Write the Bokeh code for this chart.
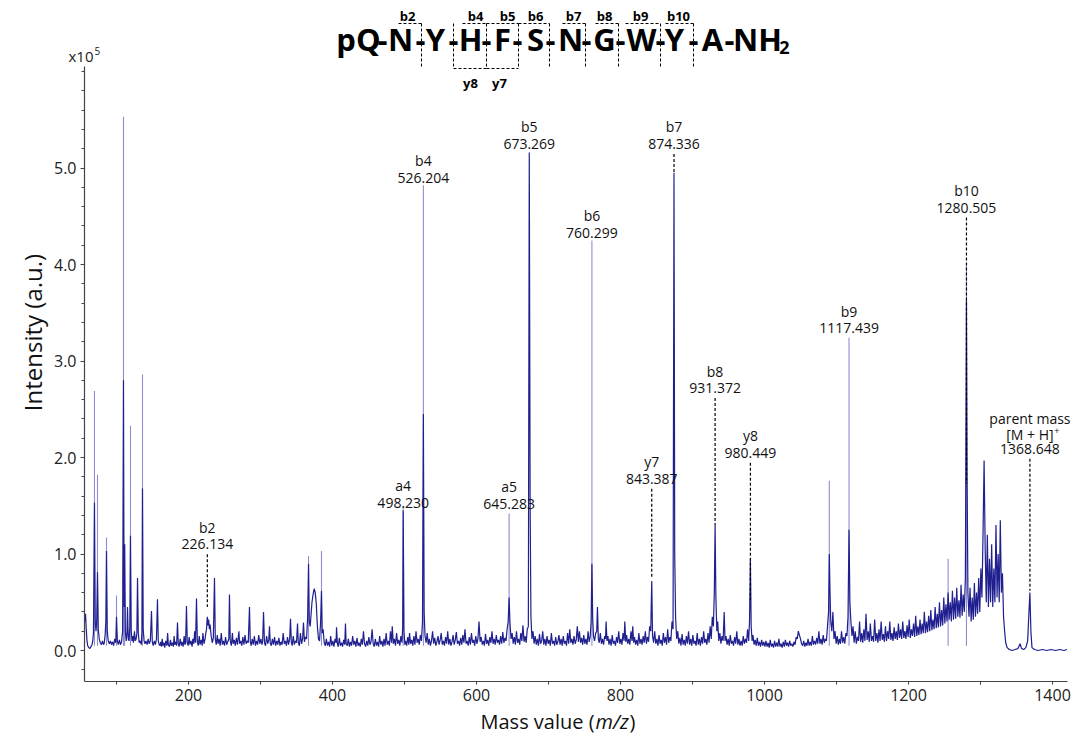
import math
from bokeh.plotting import figure
from bokeh.models import Range1d, FixedTicker, PrintfTickFormatter
from bokeh.core.properties import value
from bokeh.embed import file_html
from bokeh.resources import INLINE

# ---------------- data (m/z, intensity in units of 1e5) ----------------
trace_mz = [
    56, 57, 58, 59, 60, 61.5, 63, 64.5, 66, 67, 68, 69.4, 70.5, 71.5, 72.5, 73.6, 74.7, 76, 77.5,
    79, 80.5, 82, 83, 84.2, 85.2, 86.1, 87.2, 88.5, 90, 91.5, 93, 94.5, 96, 97.5, 99, 100, 101.2,
    102.5, 104, 105.5, 107, 108.5, 109.7, 110.5, 111.3, 112.3, 113.5, 114.5, 115.3, 116.3, 117.5,
    118.5, 119.4, 120.5, 121.5, 122.5, 123.5, 125, 126, 127.3, 128.3, 129.2, 130.3, 131.5, 133,
    134.5, 135.3, 136.1, 137.1, 138.3, 139.5, 141, 142.5, 144, 145.5, 147, 148.6, 149.7, 151,
    152.5, 154, 155.5, 156.9, 158, 159.3,
    # 160 - 500
    160.5, 161.5, 162.5, 163.5, 164.5, 166, 167, 168.5, 170, 171, 172, 173.5, 175, 176, 177.5, 179,
    180, 181, 182.5, 183.5, 184.7, 185.8, 187, 188.5, 190, 191, 192.5, 194, 195, 196, 197.2, 198.3,
    199.5, 201, 202, 203.5, 205, 206, 207.5, 208.5, 209.8, 211.1, 212.3, 213.5, 215, 216, 217.5,
    219, 220, 221.5, 223, 224, 225, 226.1, 227, 228, 229, 230, 231.5, 233, 234.5, 236.1, 237.2,
    238.5, 240, 241, 242.5, 244, 245.5, 247, 248.5, 250, 251.5, 253, 254.5, 256, 256.9, 258, 259.5,
    261, 262, 263.5, 265, 266.5, 268, 270, 271, 272.5, 274, 275.5, 277, 278.5, 280, 281.5, 283,
    284.7, 285.8, 287, 288.5, 290, 291.5, 293, 294.5, 296, 297.5, 299, 300.5, 302, 303, 304.2,
    305.5, 307, 308.5, 310, 311.5, 312.5, 313.5, 315, 316.5, 318, 319.5, 321, 322.5, 324, 325.5,
    327, 328.5, 330, 331.5, 333, 334.5, 336, 337.5, 339, 340.5, 341.7, 342.8, 344, 345.5, 347,
    348.5, 350, 351.4, 352.5, 354, 355.5, 357, 358.5, 359.7, 361, 362.5, 364, 365.5, 366.7, 367.8,
    369, 370, 371.5, 373, 374.5, 376, 377.5, 379, 380.5, 382, 383.5, 384.7, 385.8, 387, 388.5, 390,
    391.5, 393, 394.5, 396, 397.5, 399, 400.5, 402, 403.5, 405, 405.6, 406.8, 408, 409.5, 411,
    412.5, 414, 415.5, 417, 418, 419, 420.5, 422, 423.5, 425, 426.5, 428, 429.5, 431, 432.5, 434,
    435.5, 437, 438.5, 440, 441.5, 443, 444.5, 446, 447.5, 449, 450.5, 452, 453.5, 455, 456.5, 458,
    459.5, 461, 462.5, 464, 465.5, 467, 468.5, 470, 471.5, 473, 474.5, 476, 477.5, 479, 480.5, 482,
    483, 484.5, 486, 487.5, 489, 490.5, 492, 493.5, 495, 496.5, 497.5, 498.2, 499.3, 500.5,
    # 500 - 1000
    501.5, 503, 504.5, 506, 507, 508.5, 510, 511.5, 513, 514.5, 516, 517.5, 519, 520.5, 522, 523.5,
    525, 526.2, 527.3, 528.5, 530, 531.5, 533, 534.5, 536, 537.5, 539, 540.5, 542, 543.5, 545,
    546.5, 548, 549.5, 551, 552.5, 554, 555.5, 557, 558.5, 560, 561.5, 563, 564.5, 566, 567.5, 569,
    570.5, 572, 573.5, 575, 576.5, 578, 579.5, 581, 582.5, 584, 585.5, 587, 588.5, 590, 591.5, 593,
    594.5, 596, 597.5, 599, 600.5, 602, 603.5, 605, 606.5, 608, 609.5, 611, 612.5, 614, 615.5, 617,
    618.5, 620, 621.5, 623, 624.5, 626, 627.5, 629, 630.5, 632, 633.5, 635, 636.5, 638, 639.5, 641,
    642.5, 644, 645.3, 646.5, 648, 649.5, 651, 652.5, 654, 655.5, 657, 658.5, 660, 661.5, 663,
    664.5, 666, 667.5, 669, 670.5, 672, 673.3, 674.5, 675.6, 677, 678.5, 680, 681.5, 683, 684.5,
    686, 687.5, 689, 690.5, 692, 693.5, 695, 696.5, 698, 699.5, 701, 702.5, 704, 705.5, 707, 708.5,
    710, 711.5, 713, 714.5, 716, 717.5, 719, 720.5, 722, 723.5, 725, 726.5, 728, 729.5, 731, 732.5,
    734, 735.5, 737, 738.5, 740, 741.5, 743, 744.5, 746, 747.5, 749, 750.5, 752, 753.5, 755, 756.5,
    758, 759.2, 760.3, 761.4, 762.5, 764, 765.5, 767, 768, 769.2, 770.5, 772, 773.5, 775, 776.5,
    778, 779.2, 780, 781.2, 782.5, 784, 785.5, 787, 788.5, 790, 791.5, 793, 794.5, 796, 797.5, 799,
    800.5, 802, 803.5, 805, 806, 807.3, 808.5, 810, 811.5, 813, 814.5, 816, 817, 818.3, 819.5, 821,
    822.5, 824, 825.5, 827, 828.5, 830, 831.5, 833, 834.5, 836, 837.5, 839, 840.5, 842, 843.4,
    844.5, 846, 847.5, 849, 850.5, 852, 853.5, 855, 856.5, 858, 859.5, 861, 862.5, 864, 865.5, 867,
    868.5, 870, 871.5, 873, 874.3, 875.3, 876.5, 878, 879.5, 881, 882.5, 884, 885.5, 887, 888.5,
    890, 891.5, 893, 894.5, 896, 897.5, 899, 900.5, 902, 903.5, 905, 906.5, 908, 909.5, 911, 912.5,
    914, 915.5, 917, 918.5, 920, 921.5, 923, 924.5, 926, 927.5, 929, 930.3, 931.4, 932.5, 933.8,
    935, 936.5, 938, 939.5, 941, 942.5, 944, 945.2, 946.5, 948, 949.5, 951, 952.5, 954, 955.5, 957,
    958.5, 960, 961.5, 963, 964.5, 966, 967.5, 969, 970.5, 972, 973.5, 975, 976.5, 978, 979.2,
    980.4, 981.5, 982.8, 984, 985.5, 987, 988.5, 990, 991.5, 993, 994.5, 996, 997.5, 999,
    # 1000 - 1420
    1000.5, 1002, 1003.5, 1005, 1006.5, 1008, 1009.5, 1011, 1012.5, 1014, 1015.5, 1017, 1018.5,
    1020, 1021.5, 1023, 1024.5, 1026, 1027.5, 1029, 1030.5, 1032, 1033.5, 1035, 1036.5, 1038,
    1039.5, 1041, 1042.5, 1044, 1045.5, 1047, 1048.5, 1050, 1051.5, 1053, 1054.5, 1056, 1057.5,
    1059, 1060.5, 1062, 1063.5, 1065, 1066.5, 1068, 1069.5, 1071, 1072.5, 1074, 1075.5, 1077,
    1078.5, 1080, 1081.5, 1083, 1084.5, 1086, 1087.5, 1089, 1090, 1091, 1092, 1093.5, 1095,
    1096.5, 1098, 1099.5, 1101, 1102.5, 1104, 1105.5, 1107, 1108.5, 1110, 1111.5, 1113, 1114.5,
    1116, 1117.4, 1118.6, 1120, 1121.5, 1123, 1124.5, 1126, 1127.5, 1129, 1130.5, 1132, 1133.5,
    1135, 1136.5, 1138, 1139.5, 1141, 1142.5, 1144, 1145.5, 1147, 1148.5, 1150, 1151.5, 1153,
    1154.5, 1156, 1157.5, 1159, 1160.5, 1162, 1163.5, 1165, 1166.5, 1168, 1169.5, 1171, 1172.5,
    1174, 1175.5, 1177, 1178.5, 1180, 1181.5, 1183, 1184.5, 1186, 1187.5, 1189, 1190.5, 1192,
    1193.5, 1195, 1196.5, 1198, 1199.5, 1201, 1202.5, 1204, 1205.5, 1207, 1208.5, 1210, 1211.5,
    1213, 1214.5, 1216, 1217.5, 1219, 1220.5, 1222, 1223.5, 1225, 1226.5, 1228, 1229.5, 1231,
    1232.5, 1234, 1235.5, 1237, 1238.5, 1240, 1241.5, 1243, 1244.5, 1246, 1247.5, 1249, 1250.5,
    1252, 1253.5, 1255, 1256.5, 1258, 1259.5, 1261, 1262.5, 1264, 1265.5, 1267, 1268.5, 1270,
    1271.5, 1273, 1274.5, 1276, 1277.5, 1279, 1280.5, 1281.5, 1282.5, 1284, 1285.5, 1287, 1288.5,
    1290, 1291.5, 1293, 1294.5, 1296, 1297.5, 1299, 1300.5, 1302, 1303.5, 1305, 1306.5, 1308,
    1309.5, 1311, 1312.5, 1314, 1315.5, 1317, 1318.5, 1320, 1321.5, 1323, 1324.5, 1326, 1327.5,
    1329, 1330.5, 1332, 1333.5, 1335, 1337, 1340, 1344, 1348, 1352, 1355, 1357, 1360, 1363,
    1365.5, 1367, 1368.6, 1370, 1371.5, 1375, 1380, 1386, 1392, 1398, 1404, 1410, 1416, 1420,
]
trace_int = [
    0.30, 0.38, 0.22, 0.10, 0.05, 0.03, 0.02, 0.04, 0.06, 0.10, 0.18, 1.53, 0.30, 0.20, 0.30, 0.81, 0.22, 0.12, 0.08,
    0.06, 0.10, 0.06, 0.08, 0.16, 0.30, 1.03, 0.20, 0.10, 0.07, 0.10, 0.06, 0.09, 0.05, 0.12, 0.08, 0.35, 0.10,
    0.06, 0.11, 0.06, 0.09, 0.20, 2.80, 0.45, 1.10, 0.20, 0.10, 0.18, 0.45, 0.12, 0.10,
    0.25, 1.19, 0.20, 0.10, 0.15, 0.08, 0.20, 0.10, 0.12, 0.18, 0.75, 0.18, 0.08, 0.10,
    0.06, 0.20, 1.68, 0.22, 0.10, 0.07, 0.10, 0.06, 0.12, 0.07, 0.10, 0.41, 0.09, 0.05,
    0.10, 0.06, 0.12, 0.53, 0.10, 0.06,
    # 160 - 500
    0.05, 0.09, 0.04, 0.12, 0.05, 0.08, 0.03, 0.10, 0.05, 0.18, 0.06, 0.04, 0.11, 0.05, 0.08, 0.04,
    0.15, 0.06, 0.09, 0.05, 0.29, 0.07, 0.04, 0.12, 0.05, 0.09, 0.04, 0.15, 0.06, 0.08, 0.46, 0.08,
    0.05, 0.14, 0.06, 0.10, 0.04, 0.12, 0.07, 0.20, 0.08, 0.54, 0.09, 0.05, 0.15, 0.06, 0.11,
    0.05, 0.18, 0.07, 0.12, 0.18, 0.22, 0.35, 0.26, 0.32, 0.22, 0.27, 0.15, 0.08, 0.13, 0.75, 0.12,
    0.06, 0.16, 0.07, 0.12, 0.05, 0.18, 0.06, 0.10, 0.05, 0.14, 0.06, 0.09, 0.12, 0.58, 0.10, 0.05,
    0.18, 0.07, 0.11, 0.05, 0.13, 0.06, 0.20, 0.07, 0.10, 0.05, 0.14, 0.06, 0.16, 0.07, 0.10, 0.08,
    0.45, 0.09, 0.05, 0.12, 0.06, 0.15, 0.05, 0.10, 0.06, 0.16, 0.07, 0.12, 0.06, 0.10, 0.40,
    0.08, 0.05, 0.15, 0.07, 0.11, 0.25, 0.08, 0.05, 0.12, 0.06, 0.14, 0.05, 0.10, 0.06, 0.13,
    0.05, 0.09, 0.06, 0.18, 0.07, 0.10, 0.05, 0.14, 0.06, 0.12, 0.33, 0.09, 0.05, 0.15, 0.06,
    0.10, 0.08, 0.28, 0.08, 0.05, 0.18, 0.07, 0.12, 0.29, 0.09, 0.14, 0.12, 0.35, 0.90, 0.30,
    0.25, 0.35, 0.50, 0.58, 0.64, 0.60, 0.48, 0.25, 0.12, 0.10, 0.30, 0.62, 0.18, 0.22, 0.08, 0.05,
    0.12, 0.05, 0.09, 0.04, 0.15, 0.05, 0.10, 0.04, 0.12, 0.08, 0.24, 0.07, 0.04, 0.13, 0.05,
    0.08, 0.04, 0.11, 0.06, 0.28, 0.07, 0.05, 0.12, 0.04, 0.09, 0.05, 0.15, 0.06, 0.10, 0.04, 0.13,
    0.05, 0.08, 0.04, 0.12, 0.06, 0.20, 0.07, 0.04, 0.10, 0.05, 0.14, 0.06, 0.09, 0.22, 0.07, 0.04,
    0.12, 0.05, 0.09, 0.04, 0.15, 0.06, 0.10, 0.04, 0.12, 0.05, 0.18, 0.06, 0.10, 0.05, 0.20, 0.08,
    0.25, 0.07, 0.12, 0.05, 0.18, 0.07, 0.11, 0.05, 0.15, 0.08, 0.25, 1.45, 0.20, 0.06,
    # 500 - 1000
    0.10, 0.05, 0.14, 0.06, 0.18, 0.07, 0.11, 0.05, 0.15, 0.06, 0.20, 0.08, 0.12, 0.06, 0.16, 0.10,
    0.30, 2.45, 0.40, 0.15, 0.08, 0.18, 0.06, 0.12, 0.05, 0.10, 0.20, 0.07, 0.13, 0.05, 0.09,
    0.15, 0.06, 0.11, 0.18, 0.06, 0.10, 0.05, 0.14, 0.07, 0.20, 0.06, 0.12, 0.05, 0.09, 0.16, 0.06,
    0.11, 0.19, 0.07, 0.10, 0.05, 0.13, 0.06, 0.16, 0.08, 0.22, 0.07, 0.10, 0.05, 0.14, 0.06, 0.18,
    0.08, 0.11, 0.05, 0.15, 0.07, 0.12, 0.30, 0.09, 0.14, 0.06, 0.10, 0.05, 0.17, 0.07, 0.11, 0.05,
    0.14, 0.08, 0.20, 0.07, 0.12, 0.06, 0.16, 0.08, 0.11, 0.06, 0.15, 0.07, 0.19, 0.08, 0.13, 0.10,
    0.22, 0.30, 0.55, 0.28, 0.12, 0.18, 0.07, 0.14, 0.06, 0.20, 0.08, 0.12, 0.06, 0.18, 0.10,
    0.26, 0.09, 0.15, 0.08, 0.22, 0.25, 5.16, 1.50, 0.35, 0.12, 0.20, 0.07, 0.15, 0.06, 0.12,
    0.05, 0.17, 0.07, 0.10, 0.20, 0.06, 0.12, 0.05, 0.15, 0.07, 0.11, 0.05, 0.18, 0.07, 0.10, 0.05,
    0.14, 0.06, 0.09, 0.16, 0.06, 0.12, 0.05, 0.15, 0.07, 0.10, 0.05, 0.18, 0.07, 0.22, 0.08, 0.12,
    0.06, 0.15, 0.07, 0.11, 0.25, 0.09, 0.20, 0.08, 0.13, 0.06, 0.16, 0.07, 0.12, 0.06, 0.20, 0.09,
    0.15, 0.30, 0.90, 0.32, 0.15, 0.10, 0.18, 0.20, 0.45, 0.12, 0.08, 0.18, 0.07, 0.12, 0.06,
    0.15, 0.12, 0.30, 0.10, 0.15, 0.06, 0.12, 0.05, 0.16, 0.07, 0.10, 0.05, 0.14, 0.08, 0.20, 0.07,
    0.12, 0.06, 0.18, 0.10, 0.30, 0.09, 0.16, 0.07, 0.12, 0.06, 0.20, 0.10, 0.25, 0.08, 0.14, 0.06,
    0.11, 0.05, 0.18, 0.07, 0.12, 0.06, 0.15, 0.08, 0.20, 0.07, 0.14, 0.09, 0.25, 0.20, 0.72,
    0.15, 0.08, 0.20, 0.07, 0.12, 0.05, 0.16, 0.07, 0.11, 0.05, 0.18, 0.08, 0.14, 0.06, 0.22, 0.08,
    0.14, 0.10, 0.30, 0.22, 4.95, 1.00, 0.35, 0.12, 0.20, 0.07, 0.13, 0.05, 0.17, 0.06, 0.11,
    0.05, 0.15, 0.07, 0.20, 0.06, 0.12, 0.05, 0.16, 0.07, 0.10, 0.05, 0.18, 0.06, 0.12, 0.05, 0.14,
    0.07, 0.20, 0.08, 0.12, 0.06, 0.18, 0.08, 0.25, 0.12, 0.35, 0.25, 0.60, 1.30, 0.55, 0.20,
    0.30, 0.10, 0.18, 0.07, 0.15, 0.10, 0.40, 0.10, 0.15, 0.06, 0.12, 0.05, 0.16, 0.07, 0.10, 0.05,
    0.14, 0.07, 0.20, 0.06, 0.12, 0.05, 0.10, 0.05, 0.15, 0.07, 0.12, 0.08, 0.22, 0.10, 0.30,
    0.95, 0.25, 0.10, 0.16, 0.06, 0.11, 0.05, 0.13, 0.05, 0.09, 0.04, 0.11, 0.05, 0.09,
    # 1000 - 1420
    0.04, 0.10, 0.04, 0.08, 0.03, 0.11, 0.04, 0.07, 0.03, 0.10, 0.04, 0.08, 0.04,
    0.12, 0.04, 0.07, 0.03, 0.09, 0.04, 0.11, 0.05, 0.08, 0.04, 0.10, 0.05, 0.07,
    0.04, 0.09, 0.06, 0.14, 0.12, 0.20, 0.16, 0.12, 0.07, 0.05, 0.10, 0.04, 0.08,
    0.05, 0.12, 0.05, 0.09, 0.05, 0.15, 0.06, 0.10, 0.06, 0.13, 0.07, 0.20, 0.07,
    0.12, 0.06, 0.16, 0.08, 0.12, 0.10, 0.25, 0.40, 1.00, 0.60, 0.30, 0.20, 0.40,
    0.12, 0.20, 0.07, 0.15, 0.06, 0.12, 0.07, 0.20, 0.08, 0.14, 0.07, 0.18, 0.15,
    0.35, 1.25, 0.50, 0.30, 0.15, 0.25, 0.08, 0.20, 0.07, 0.14, 0.10, 0.30, 0.09,
    0.18, 0.08, 0.22, 0.10, 0.38, 0.11, 0.20, 0.09, 0.28, 0.10, 0.15, 0.09, 0.32,
    0.10, 0.18, 0.08, 0.22, 0.10, 0.30, 0.11, 0.17, 0.09, 0.25, 0.10, 0.20, 0.12,
    0.30, 0.11, 0.18, 0.10, 0.24, 0.12, 0.20, 0.11, 0.28, 0.13, 0.22, 0.12, 0.30,
    0.13, 0.20, 0.12, 0.26, 0.14, 0.32, 0.13, 0.22, 0.15, 0.28, 0.14, 0.36, 0.15,
    0.25, 0.16, 0.32, 0.17, 0.28, 0.18, 0.40, 0.18, 0.30, 0.19, 0.36, 0.20, 0.42,
    0.21, 0.32, 0.22, 0.45, 0.23, 0.38, 0.24, 0.50, 0.25, 0.42, 0.26, 0.55, 0.28,
    0.48, 0.30, 0.60, 0.32, 0.50, 0.30, 0.62, 0.32, 0.55, 0.33, 0.65, 0.35, 0.52,
    0.34, 0.68, 0.36, 0.58, 0.40, 0.75, 3.63, 1.70, 0.60, 0.35, 0.65, 0.30, 0.55,
    0.32, 0.70, 0.35, 0.60, 0.38, 0.75, 0.40, 0.85, 0.55, 1.20, 1.97, 1.05, 0.50,
    1.20, 0.45, 0.95, 0.50, 1.10, 0.45, 0.85, 0.50, 1.30, 0.55, 1.00, 0.50, 1.35,
    0.60, 0.80, 0.35, 0.20, 0.08, 0.03, 0.01, 0.00, 0.01, 0.02, 0.07, 0.02, 0.01, 0.03,
    0.10, 0.35, 0.60, 0.20, 0.03, 0.01, 0.00, 0.01, 0.00, 0.01, 0.00, 0.01, 0.00, 0.01,
]

# thin tall peaks (lighter rendering of their upper parts)
stick_mz = [69.4, 73.6, 86.1, 100.0, 109.7, 111.3, 119.4, 136.1, 366.7, 384.7, 498.2,
            526.2, 645.3, 760.3, 1090.0, 1117.4, 1255.0, 1280.5]
stick_top = [2.69, 1.82, 1.17, 0.57, 5.53, 1.10, 2.33, 2.86, 0.98, 1.03, 1.50,
             4.82, 1.42, 4.25, 1.76, 3.24, 0.95, 3.99]

# annotated fragment ions
ann_ion = ["b2", "a4", "b4", "a5", "b5", "b6", "y7", "b7", "b8", "y8", "b9", "b10"]
ann_mz = [226.134, 498.230, 526.204, 645.283, 673.269, 760.299, 843.387, 874.336,
          931.372, 980.449, 1117.439, 1280.505]
parent_mz = 1368.648

# peptide sequence header
residues = ["pQ", "N", "Y", "H", "F", "S", "N", "G", "W", "Y", "A", "NH"]
b_ions = ["b2", "b4", "b5", "b6", "b7", "b8", "b9", "b10"]
y_ions = ["y8", "y7"]

x_ticks = [200, 400, 600, 800, 1000, 1200, 1400]
y_ticks = [0, 1, 2, 3, 4, 5]

# ---------------- layout / style ----------------
FONT = "Open Sans"
DARK = "#1f1f8f"
LIGHT = "#8d8dd2"
W, H = 1075, 737
# calibration: page pixel <-> data
PX_PER_MZ = 0.72
MZ_AT_188 = 200.0
PX_PER_INT = 96.5
ZERO_PY = 650.0

def mz_at(px):
    return MZ_AT_188 + (px - 188) / PX_PER_MZ

def int_at(py):
    return (ZERO_PY - py) / PX_PER_INT

X_AXIS_PY, Y_AXIS_PX, Y_AXIS_TOP_PY, X_AXIS_RIGHT_PX = 681, 84, 66, 1067

# label line (m/z number) level for each annotation, and dashed-line ends (None = none)
ann_label_y = [1.10, 1.53, 4.90, 1.52, 5.25, 4.33, 1.78, 5.25, 2.72, 2.05, 3.34, 4.59]
ann_dash_to = [0.45, None, None, None, None, None, 0.75, 4.95, 1.30, 0.52, None, 1.73]
parent_label_y = 2.09
parent_dash_to = 0.62

p = figure(width=W, height=H, output_backend="svg", toolbar_location=None,
           x_range=Range1d(mz_at(0), mz_at(W)), y_range=Range1d(int_at(H), int_at(0)),
           min_border=0)
p.outline_line_color = None
p.grid.visible = False
p.background_fill_color = "white"
p.border_fill_color = "white"

# header / title coordinate system: page pixels
p.extra_x_ranges = {"hx": Range1d(0, W)}
p.extra_y_ranges = {"hy": Range1d(H, 0)}

# axes drawn at fixed data locations inside the canvas
for ax in (p.xaxis[0], p.yaxis[0]):
    ax.axis_line_color = "#444444"
    ax.axis_line_width = 1.2
    ax.major_tick_line_color = "#444444"
    ax.minor_tick_line_color = "#444444"
    ax.major_label_text_font = FONT
    ax.major_label_text_font_size = "16px"
    ax.major_label_text_color = "#222222"
    ax.major_tick_in = 0
    ax.minor_tick_in = 0

p.xaxis.fixed_location = int_at(X_AXIS_PY)
p.xaxis.ticker = FixedTicker(ticks=x_ticks, minor_ticks=[t - 100 for t in x_ticks] + [1300])
p.xaxis.major_tick_out = 3
p.xaxis.minor_tick_out = 3
p.xaxis.major_label_standoff = 4
p.xaxis.bounds = (mz_at(Y_AXIS_PX), mz_at(X_AXIS_RIGHT_PX))

p.yaxis.fixed_location = mz_at(Y_AXIS_PX)
p.yaxis.ticker = FixedTicker(ticks=y_ticks,
                             minor_ticks=[round(-0.2 + 0.2 * i, 1) for i in range(32)])
p.yaxis.formatter = PrintfTickFormatter(format="%.1f")
p.yaxis.major_tick_out = 4
p.yaxis.minor_tick_out = 3
p.yaxis.major_label_standoff = 4
p.yaxis.bounds = (int_at(X_AXIS_PY), int_at(Y_AXIS_TOP_PY))

# spectrum
p.segment(x0=stick_mz, y0=[0.05] * len(stick_mz), x1=stick_mz, y1=stick_top,
          line_color=LIGHT, line_width=1.1)
p.line(trace_mz, trace_int, line_color=DARK, line_width=1.2)

# peak annotations
num_text = ["%.3f" % m for m in ann_mz]
ion_y = [v + 17 / PX_PER_INT for v in ann_label_y]
p.text(x=ann_mz, y=ann_label_y, text=num_text, text_font=value(FONT), text_font_size="14px",
       text_align="center", text_baseline="middle", text_color="#111111")
p.text(x=ann_mz, y=ion_y, text=ann_ion, text_font=value(FONT), text_font_size="14px",
       text_align="center", text_baseline="middle", text_color="#111111")
dx, dy0, dy1 = [], [], []
for m, ly, d in zip(ann_mz, ann_label_y, ann_dash_to):
    if d is not None:
        dx.append(m); dy0.append(ly - 10 / PX_PER_INT); dy1.append(d)
dx.append(parent_mz); dy0.append(parent_label_y - 10 / PX_PER_INT); dy1.append(parent_dash_to)
p.segment(x0=dx, y0=dy0, x1=dx, y1=dy1, line_color="black", line_width=1.2, line_dash="3 2")

p.text(x=[parent_mz] * 3,
       y=[parent_label_y, parent_label_y + 14 / PX_PER_INT, parent_label_y + 30 / PX_PER_INT],
       text=["%.3f" % parent_mz, "[M + H]", "parent mass"], text_font=value(FONT),
       text_font_size="14px", text_align="center", text_baseline="middle", text_color="#111111")
p.text(x=[parent_mz], y=[parent_label_y + 14 / PX_PER_INT], text=["+"], x_offset=27,
       y_offset=-4, text_font=value(FONT), text_font_size="9px", text_align="center",
       text_baseline="middle", text_color="#111111")

# ---------------- peptide header (page-pixel coordinates) ----------------
res_x = [358, 400, 435, 470, 502, 535, 570, 604, 641, 674, 712, 757]
hyph_x = [382, 420, 453, 486, 517, 550, 586, 620, 660, 693, 729]
sep_x = [421, 453, 486, 518, 549, 585, 618, 660, 693]
b_x0 = [398, 462, 486, 518, 562, 595, 625, 665]
b_x1 = [421, 486, 518, 549, 585, 618, 660, 693]
b_lab_x = [407, 475, 507, 535, 573, 604, 640, 678]
y_x0 = [453, 486]
y_x1 = [486, 518]
y_lab_x = [470, 499]

hk = dict(x_range_name="hx", y_range_name="hy")
p.text(x=res_x, y=[38] * len(res_x), text=residues, text_font=value(FONT),
       text_font_style="bold", text_font_size="31px", text_align="center",
       text_baseline="middle", text_color="black", **hk)
p.text(x=hyph_x, y=[39] * len(hyph_x), text=["-"] * len(hyph_x), text_font=value(FONT),
       text_font_style="bold", text_font_size="31px", text_align="center",
       text_baseline="middle", text_color="black", **hk)
p.text(x=[784], y=[47], text=["2"], text_font=value(FONT), text_font_style="bold",
       text_font_size="18px", text_align="center", text_baseline="middle",
       text_color="black", **hk)
p.segment(x0=sep_x, y0=[23] * len(sep_x), x1=sep_x, y1=[66] * len(sep_x),
          line_color="black", line_width=1, line_dash="3 2", **hk)
p.segment(x0=b_x0, y0=[23] * len(b_x0), x1=b_x1, y1=[23] * len(b_x1),
          line_color="black", line_width=1, line_dash="3 2", **hk)
p.segment(x0=y_x0, y0=[68] * 2, x1=y_x1, y1=[68] * 2,
          line_color="black", line_width=1, line_dash="3 2", **hk)
p.text(x=b_lab_x, y=[15] * len(b_lab_x), text=b_ions, text_font=value(FONT),
       text_font_style="bold", text_font_size="13px", text_align="center",
       text_baseline="middle", text_color="black", **hk)
p.text(x=y_lab_x, y=[82] * 2, text=y_ions, text_font=value(FONT),
       text_font_style="bold", text_font_size="13px", text_align="center",
       text_baseline="middle", text_color="black", **hk)

# exponent marker and axis titles
p.text(x=[93], y=[55], text=["x10"], text_font=value(FONT), text_font_size="15px",
       text_align="right", text_baseline="middle", text_color="#222222", **hk)
p.text(x=[94], y=[50], text=["5"], text_font=value(FONT), text_font_size="10px",
       text_align="left", text_baseline="middle", text_color="#222222", **hk)
p.text(x=[32], y=[332], text=["Intensity (a.u.)"], angle=math.pi / 2,
       text_font=value(FONT), text_font_size="24px", text_align="center",
       text_baseline="middle", text_color="#111111", **hk)
p.text(x=[480], y=[721], text=["Mass value ("], text_font=value(FONT), text_font_size="20px",
       text_align="left", text_baseline="middle", text_color="#111111", **hk)
p.text(x=[595], y=[721], text=["m/z"], text_font=value(FONT), text_font_size="20px",
       text_font_style="italic", text_align="left", text_baseline="middle",
       text_color="#111111", **hk)
p.text(x=[629], y=[721], text=[")"], text_font=value(FONT), text_font_size="20px",
       text_align="left", text_baseline="middle", text_color="#111111", **hk)

open("out.html", "w").write(file_html(p, INLINE))
